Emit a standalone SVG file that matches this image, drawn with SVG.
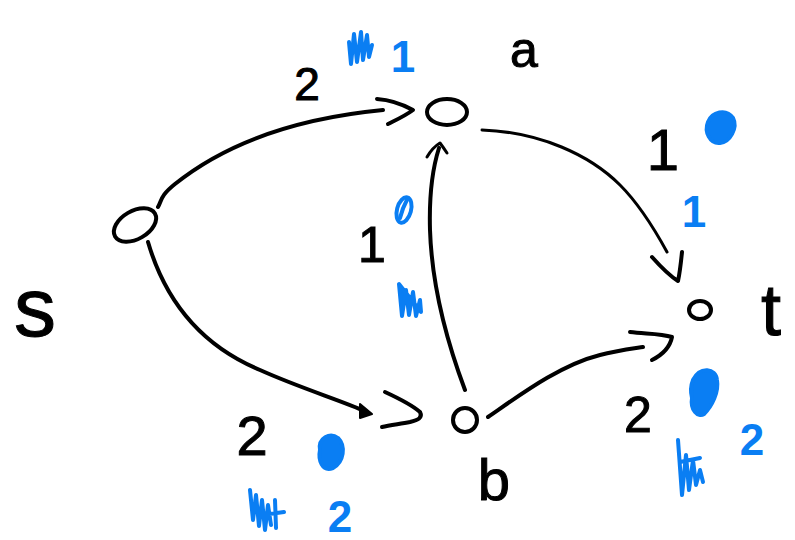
<svg xmlns="http://www.w3.org/2000/svg" width="795" height="540" viewBox="0 0 795 540">
<style>
.ink{fill:none;stroke:#000;stroke-width:4;stroke-linecap:round;stroke-linejoin:round}
.thin{stroke-width:3}
.node{fill:none;stroke:#000;stroke-width:4}
.lbl{font-family:"Liberation Sans","DejaVu Sans",sans-serif;fill:#000;stroke:#000;stroke-width:1;text-anchor:middle}
.cap{font-family:"Liberation Sans","DejaVu Sans",sans-serif;fill:#000;stroke:#000;stroke-width:1;text-anchor:middle}
.flow{font-family:"Liberation Sans","DejaVu Sans",sans-serif;fill:#0a7ef3;font-weight:bold;text-anchor:middle}
.scr{fill:none;stroke:#0a7ef3;stroke-width:4;stroke-linecap:round;stroke-linejoin:round}
.blob{fill:#0a7ef3;stroke:#0a7ef3;stroke-width:4;stroke-linejoin:round}
</style>
<rect width="795" height="540" fill="#fff"/>

<g id="connectors">
  <g id="edge-s-a">
    <path class="ink" d="M158,207 C162,200 160,196 175,184 C230,140 300,118 383,110"/>
    <path class="ink" d="M377,99 C392,100 402,104 413,110 C405,116 396,120 388,124"/>
    <text class="cap" x="307" y="100" font-size="46">2</text>
    <path class="scr" d="M349,42 L351,64 L354,34 L357,62 L361,32 L363,60 L367,35 L369,57 L372,45"/>
    <text class="flow" x="403" y="72" font-size="44">1</text>
  </g>
  <g id="edge-a-t">
    <path class="ink thin" d="M482,130 C540,132 590,155 620,185 C640,205 655,230 667,252"/>
    <path class="ink" d="M652,257 C660,266 670,276 678,281 C680,272 681,262 682,252"/>
    <text class="cap" x="663" y="170" font-size="58">1</text>
    <path class="blob" d="M708,122 C712,112 726,108 733,118 C738,128 730,142 720,143 C710,144 704,132 708,122 Z"/>
    <text class="flow" x="694" y="227" font-size="44">1</text>
  </g>
  <g id="edge-b-a">
    <path class="ink" d="M465,390 C450,350 432,290 430,230 C429,195 432,170 439,148"/>
    <path class="ink thin" d="M427,157 C431,150 435,146 440,143 C443,147 445,150 447,153"/>
    <text class="cap" x="372" y="262" font-size="50">1</text>
    <ellipse class="scr" cx="404" cy="210" rx="7" ry="13" transform="rotate(15 404 210)"/>
    <path class="scr" d="M400,218 C403,206 406,202 408,198"/>
    <path class="blob" d="M399,284 L402,316 L406,290 L409,315 L413,292 L416,316 L420,300 L421,312 Z"/>
  </g>
  <g id="edge-s-b">
    <path class="ink" d="M148,242 C165,300 200,345 260,370 C300,388 340,400 367,412"/>
    <path d="M360,404 L372,414 L360,418 Z" fill="#000" stroke="#000" stroke-width="2" stroke-linejoin="round"/>
    <path class="ink" d="M385,392 C398,398 412,405 420,412 C423,418 418,420 410,422 C400,424 390,425 382,427"/>
    <text class="cap" x="252" y="455" font-size="56">2</text>
    <path class="blob" d="M320,450 C318,438 330,432 338,438 C346,446 344,462 333,468 C322,472 318,460 320,450 Z"/>
    <path class="scr" d="M250,490 L253,520 L256,495 L259,526 L262,500 L265,530 L268,505 L271,525 M262,515 L284,512 M275,500 L276,528"/>
    <text class="flow" x="340" y="532" font-size="44">2</text>
  </g>
  <g id="edge-b-t">
    <path class="ink" d="M488,417 C520,395 560,365 600,355 C615,351 630,349 643,347"/>
    <path class="ink" d="M630,332 C645,334 660,333 672,337 C670,347 662,355 652,360"/>
    <text class="cap" x="638" y="432" font-size="50">2</text>
    <path class="blob" d="M693,380 C700,366 716,368 717,380 C719,392 712,406 704,414 C698,418 690,410 692,398 C690,390 691,385 693,380 Z"/>
    <path class="scr" d="M678,440 L682,495 L686,455 L689,490 L693,460 L696,485 L700,470 L703,482 M680,462 L700,458"/>
    <text class="flow" x="752" y="455" font-size="44">2</text>
  </g>
</g>

<g id="node-s">
  <ellipse class="node" cx="135" cy="225" rx="23" ry="14" transform="rotate(-30 135 225)"/>
  <text class="lbl" x="35" y="336" font-size="84">s</text>
</g>
<g id="node-a">
  <ellipse class="node" cx="447" cy="112" rx="20" ry="13"/>
  <text class="lbl" x="524" y="67" font-size="50">a</text>
</g>
<g id="node-b">
  <ellipse class="node" cx="465" cy="420" rx="12" ry="12"/>
  <text class="lbl" x="494" y="500" font-size="58">b</text>
</g>
<g id="node-t">
  <ellipse class="node" cx="700" cy="310" rx="11" ry="9"/>
  <text class="lbl" x="771" y="335" font-size="72">t</text>
</g>
</svg>
